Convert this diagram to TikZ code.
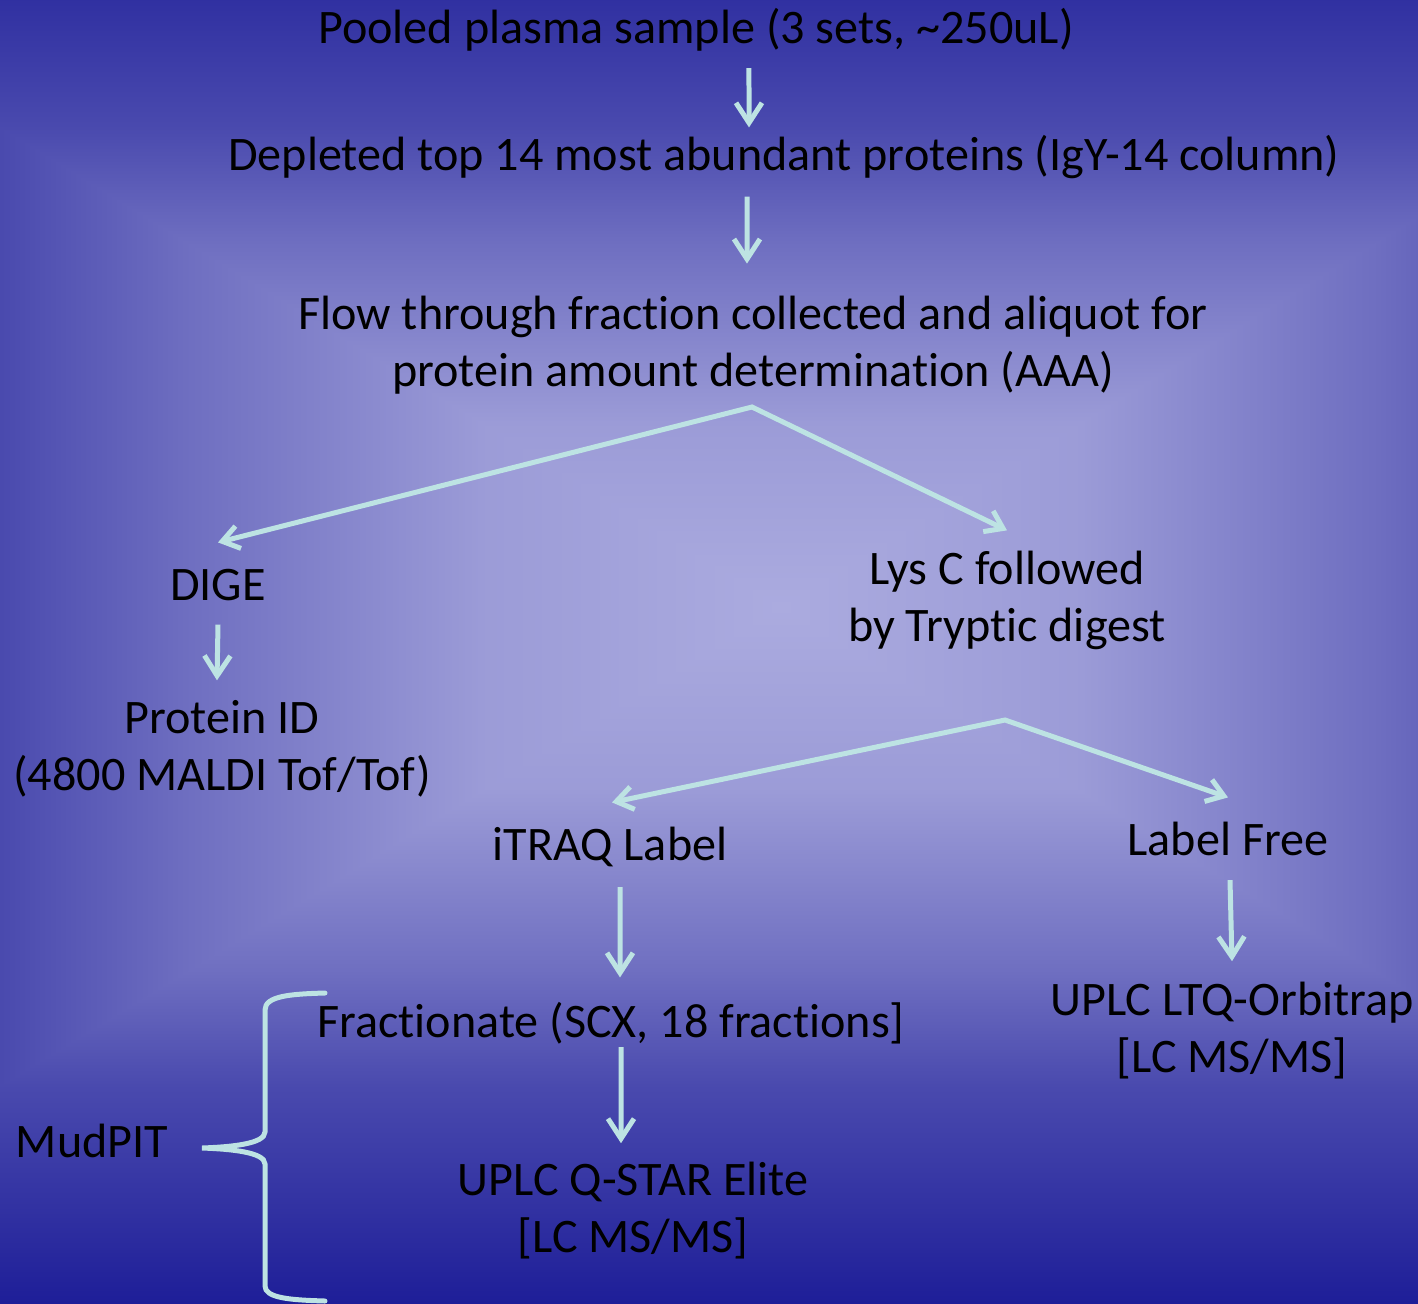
\documentclass[tikz,border=0pt]{standalone}
\usepackage{fontspec}
\setmainfont{Carlito}[Ligatures=NoCommon]
\usetikzlibrary{arrows.meta}

\definecolor{bgin}{HTML}{ABABDF}
\definecolor{bgdark}{HTML}{1E1E98}
\colorlet{gA}{bgdark!11!bgin}
\colorlet{gB}{bgdark!43!bgin}
\colorlet{gC}{bgdark!69!bgin}
\colorlet{gD}{bgdark!87!bgin}
\colorlet{gE}{bgdark!49!bgin}
\definecolor{arrowcol}{HTML}{BDE3E3}

% background shadings, stops placed at equal distance ratios from the centre
\pgfdeclareverticalshading{bgtopshade}{100bp}{color(0bp)=(bgin); color(25bp)=(bgin); color(40bp)=(gA); color(55bp)=(gB); color(64.5bp)=(gC); color(75bp)=(gD); color(82.35bp)=(bgdark); color(100bp)=(bgdark)}
\pgfdeclareverticalshading{bgbotshade}{100bp}{color(0bp)=(bgdark); color(25bp)=(bgdark); color(31.4bp)=(gD); color(40.6bp)=(gC); color(48.8bp)=(gB); color(61.9bp)=(gA); color(75bp)=(bgin); color(100bp)=(bgin)}
\pgfdeclarehorizontalshading{bgleftshade}{100bp}{color(0bp)=(gC); color(25bp)=(gC); color(37bp)=(gB); color(56bp)=(gA); color(75bp)=(bgin); color(100bp)=(bgin)}
\pgfdeclarehorizontalshading{bgrightshade}{100bp}{color(0bp)=(bgin); color(25bp)=(bgin); color(48.3bp)=(gA); color(71.7bp)=(gB); color(75bp)=(gE); color(100bp)=(gE)}

\tikzset{
	txt/.style={font=\fontsize{27.4}{32.4}\selectfont, inner sep=0pt, align=center},
	oneline/.style={txt, text height=0.72cm, text depth=0.23cm},
	flowarrow/.style={draw=arrowcol, line width=0.1cm, -{Straight Barb[length=0.4cm,width=0.52cm]}},
	forkarrow/.style={draw=arrowcol, line width=0.1cm, {Straight Barb[length=0.33cm,width=0.46cm]}-{Straight Barb[length=0.33cm,width=0.46cm]}},
	mudbrace/.style={draw=arrowcol, line width=0.1cm, line cap=round}
}

\begin{document}
\begin{tikzpicture}[x=0.02cm, y=-0.02cm]
	\useasboundingbox (0,0) rectangle (1418,1303);
	
	% background
	\begin{scope}
		\clip (0,0) rectangle (1418,1303);
		\fill[bgin] (0,0) rectangle (1418,1303);
		\shade[shading=bgtopshade] (0,0) rectangle (1418,607);
		\shade[shading=bgbotshade] (0,607) rectangle (1418,1303);
		\shade[shading=bgleftshade] (781,607) -- (0,1086) -- (0,128) -- cycle;
		\shade[shading=bgrightshade] (781,607) -- (1418,217) -- (1418,997) -- cycle;
	\end{scope}
	
	\node[oneline] (pooled) at (696,31) {Pooled plasma sample (3 sets, \textasciitilde250uL)};
	\node[oneline] (depleted) at (784,158) {Depleted top 14 most abundant proteins (IgY-14 column)};
	\node[txt] (flow) at (753,345) {Flow through fraction collected and aliquot for\\protein amount determination (AAA)};
	\node[oneline] (dige) at (218,588) {DIGE};
	\node[txt] (protid) at (222,749) {Protein ID\\(4800 MALDI Tof/Tof)};
	\node[txt] (lysc) at (1007,600) {Lys C followed\\by Tryptic digest};
	\node[oneline] (itraq) at (610,848) {iTRAQ Label};
	\node[oneline] (lfree) at (1228,843) {Label Free};
	\node[oneline] (fract) at (611,1025) {Fractionate (SCX, 18 fractions]};
	\node[txt] (qstar) at (633,1211) {UPLC Q-STAR Elite\\{[LC MS/MS]}};
	\node[txt] (orbi) at (1232,1031) {UPLC LTQ-Orbitrap\\{[LC MS/MS]}};
	\node[oneline] (mud) at (92,1145) {MudPIT};
	
	\coordinate (fork1) at (752,407);
	\coordinate (fork2) at (1005,720);
	
	\draw[flowarrow] ([xshift=1.06cm,yshift=-0.26cm]pooled.south) -- ([xshift=-0.7cm,yshift=0.13cm]depleted.north);
	\draw[flowarrow] ([xshift=-0.74cm,yshift=-0.29cm]depleted.south) -- ([xshift=-0.12cm,yshift=0.64cm]flow.north);
	\draw[forkarrow] ([yshift=0.43cm]dige.north) -- (fork1) -- ([yshift=0.4cm]lysc.north);
	\draw[flowarrow] ([yshift=-0.25cm]dige.south) -- ([xshift=-0.1cm,yshift=0.4cm]protid.north);
	\draw[forkarrow] ([xshift=0.04cm,yshift=0.43cm]itraq.north) -- (fork2) -- ([yshift=0.43cm]lfree.north);
	\draw[flowarrow] ([xshift=0.2cm,yshift=-0.3cm]itraq.south) -- ([xshift=0.18cm,yshift=0.47cm]fract.north);
	\draw[flowarrow] ([xshift=0.04cm,yshift=-0.26cm]lfree.south) -- ([yshift=0.42cm]orbi.north);
	\draw[flowarrow] ([xshift=0.2cm,yshift=0.04cm]fract.south) -- ([xshift=-0.24cm,yshift=0.38cm]qstar.north);
	
	% brace for MudPIT
	\draw[mudbrace] (325,993) .. controls (290,994) and (265,996) .. (265,1010) -- (265,1132)
		.. controls (265,1144) and (230,1147) .. (202,1148)
		.. controls (230,1149) and (265,1152) .. (265,1164) -- (265,1286)
		.. controls (265,1298) and (290,1300) .. (325,1301);
\end{tikzpicture}
\end{document}
